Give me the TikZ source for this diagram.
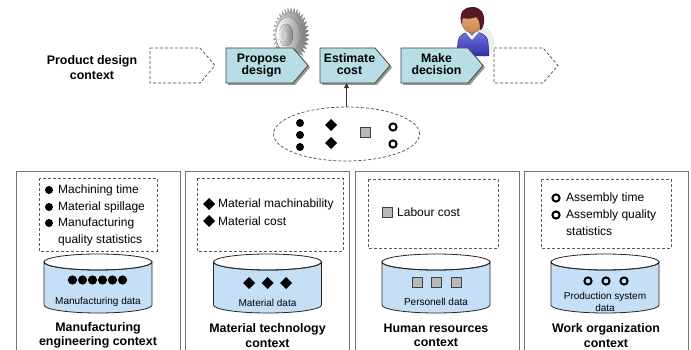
\documentclass[tikz,border=0pt]{standalone}
\usepackage{fontspec}
\setmainfont{Liberation Sans}
\usetikzlibrary{shapes.geometric,arrows.meta,shadows}

\definecolor{procfill}{RGB}{183,222,228}
\definecolor{dbfill}{RGB}{197,223,247}
\definecolor{hair}{RGB}{85,25,35}
\definecolor{skin}{RGB}{232,158,88}
\definecolor{suit}{RGB}{55,55,205}

\tikzset{
  procshape/.style={draw=black!75, line width=0.8pt, fill=procfill,
    drop shadow={shadow xshift=2pt, shadow yshift=-2pt, fill=black!40, opacity=1}},
  ghostshape/.style={draw=black!70, line width=0.7pt, dash pattern=on 3pt off 2pt},
  proctext/.style={inner sep=0pt, minimum height=35pt,
    font=\fontsize{12.3}{14.5}\selectfont\bfseries},
  frame/.style={draw=black!55, line width=1pt},
  listbox/.style={draw=black!65, line width=0.7pt, dash pattern=on 3pt off 2pt},
  pool/.style={ellipse, draw=black!70, line width=0.7pt, dash pattern=on 3pt off 2pt,
    minimum width=146pt, minimum height=54pt},
  item/.style={anchor=west, inner sep=0pt, font=\fontsize{12}{14}\selectfont},
  dblabel/.style={inner sep=0pt, align=center, font=\fontsize{10}{12}\selectfont},
  ctxtitle/.style={inner sep=0pt, align=center, font=\fontsize{12.4}{14.5}\selectfont\bfseries},
  db/.style={fill=dbfill, draw=black!85, line width=0.8pt},
}

% process step: style, name, left x, body width, first line, second line
\newcommand\procstep[6]{%
  \path[#1] (#3,48) -- (#3+#4,48) -- (#3+#4+15,65.5) -- (#3+#4,83) -- (#3,83) -- cycle;
  \node[proctext, minimum width=#4] (#2) at (#3+#4/2+2,65.5)
    {\begin{tabular}{@{}c@{}}#5\\[-2pt]#6\end{tabular}};}
% list and data symbols
\newcommand\symdot[2][4]{\fill (#2) circle (#1);}
\newcommand\symdia[2][6]{\fill (#2) +(-#1,0) -- +(0,-#1) -- +(#1,0) -- +(0,#1) -- cycle;}
\newcommand\symsq[2][5]{\filldraw[fill=black!28, draw=black!75, line width=0.6pt] (#2) +(-#1,-#1) rectangle +(#1,#1);}
\newcommand\symring[2][3.6]{\draw[line width=2pt] (#2) circle (#1);}
% database cylinder: centre x, top ellipse y, bottom ellipse y
\newcommand\database[3]{%
  \path[db] (#1-54,#2) -- (#1-54,#3) arc (180:0:54 and 8) -- (#1+54,#2) arc (0:180:54 and 8) -- cycle;
  \draw[db, fill=none] (#1,#2) ellipse (54 and 8);}

\begin{document}
\begin{tikzpicture}[x=1pt,y=-1pt]
\useasboundingbox (0,0) rectangle (691,350);
\clip (0,0) rectangle (691,350);
\fill[white] (0,0) rectangle (691,350);

% turbine icon
\begin{scope}
  \fill[left color=black!10, right color=black!55, draw=black!40, line width=0.3pt]
    ({291+18*cos(0)},{35+27*sin(0)})
    \foreach \a in {0,10,...,350} {
      -- ({291+18*cos(\a)},{35+27*sin(\a)})
      -- ({291+14*cos(\a+7)},{35+21*sin(\a+7)})
    } -- cycle;
  \fill[left color=white, right color=black!40, draw=black!40, line width=0.3pt] (288,35) ellipse (12 and 18);
  \fill[left color=black!8, right color=black!50] (286,35) ellipse (7 and 11);
  \fill[black!20] (284,35) ellipse (3 and 5);
\end{scope}

% person icon
\begin{scope}
  \fill[black!7] (483,42) ellipse (11 and 15);
  \fill[top color=suit!70!white, bottom color=suit!85!black, draw=suit!60!black, line width=0.3pt]
    (457,56) -- (458,42) .. controls (459,34) and (465,32) .. (472,32)
    .. controls (480,32) and (487,34) .. (488,42) -- (489,56) -- cycle;
  \fill[white, draw=black!40, line width=0.3pt] (465,32) -- (472,40) -- (479,32) -- (476,31) -- (472,36) -- (468,31) -- cycle;
  \fill[top color=skin!80!white, bottom color=skin!85!black] (472,21) ellipse (10.5 and 12);
  \fill[hair] (461,22) .. controls (459,11) and (465,7) .. (472,7)
    .. controls (481,7) and (485,13) .. (484,23)
    .. controls (483,27) and (482,30) .. (480,30)
    .. controls (480,24) and (479,19) .. (476,17)
    .. controls (472,19) and (466,19) .. (463,18)
    .. controls (462,20) and (462,22) .. (462,25) -- cycle;
\end{scope}

% process chain
\node[ctxtitle] (pdc) at (92,67.5) {Product design\\context};
\procstep{ghostshape}{prev}{150}{50}{}{}
\procstep{procshape}{propose}{226}{67}{Propose}{design}
\procstep{procshape}{estimate}{320}{55}{Estimate}{cost}
\procstep{procshape}{decide}{401}{67}{Make}{decision}
\procstep{ghostshape}{next}{494}{49}{}{}

% pool of cost drivers
\node[pool] (drivers) at (346.5,134) {};
\draw[black!80, line width=0.8pt, -{Triangle[length=5pt,width=5pt]}] (drivers.north) -- (drivers.north |- estimate.south);
\symdot{300,123} \symdot{300,135} \symdot{300,147}
\symdia{331,125} \symdia{331,143}
\symsq{365,132}
\symring{393,127} \symring{393,144}

% context frames
\draw[frame] (16,172) rectangle (180,370);
\draw[frame] (185.5,172) rectangle (349.5,370);
\draw[frame] (355,172) rectangle (519,370);
\draw[frame] (524.5,172) rectangle (688.5,370);

% manufacturing engineering
\draw[listbox] (39,178) rectangle (157,251);
\symdot{49,190} \node[item] (m1) at (58,190) {Machining time};
\symdot{49,207} \node[item] (m2) at (58,207) {Material spillage};
\symdot{49,223} \node[item] (m3) at (58,223) {Manufacturing};
\node[item] (m4) at (58,240) {quality statistics};
\database{98}{262}{305}
\foreach \i in {0,...,5} { \symdot[4.6]{{72.5+\i*10},280} }
\node[dblabel] (mdata) at (98,302) {Manufacturing data};
\node[ctxtitle] (ctx1) at (98,335.5) {Manufacturing\\engineering context};

% material technology
\draw[listbox] (197,178) rectangle (343,251);
\symdia{209,204} \node[item] (t1) at (218,204) {Material machinability};
\symdia{209,221} \node[item] (t2) at (218,221) {Material cost};
\database{267.5}{262}{305}
\symdia{249,283} \symdia{267.5,283} \symdia{286,283}
\node[dblabel] (tdata) at (267.5,303) {Material data};
\node[ctxtitle] (ctx2) at (267.5,335.5) {Material technology\\context};

% human resources
\draw[listbox] (368,179) rectangle (498,248);
\symsq{387,212} \node[item] (h1) at (397,212) {Labour cost};
\database{436}{262}{305}
\symsq{417,282} \symsq{436.5,282} \symsq{456,282}
\node[dblabel] (hdata) at (436,302) {Personell data};
\node[ctxtitle] (ctx3) at (436,335.5) {Human resources\\context};

% work organization
\draw[listbox] (541,179) rectangle (671,248);
\symring{556,198} \node[item] (w1) at (566,198) {Assembly time};
\symring{556,215} \node[item] (w2) at (566,215) {Assembly quality};
\node[item] (w3) at (566,231) {statistics};
\database{605}{262}{305}
\symring{588,281} \symring{606,281} \symring{624,281}
\node[dblabel] (wdata) at (605,302) {Production system\\data};
\node[ctxtitle] (ctx4) at (606,335.5) {Work organization\\context};
\end{tikzpicture}
\end{document}
